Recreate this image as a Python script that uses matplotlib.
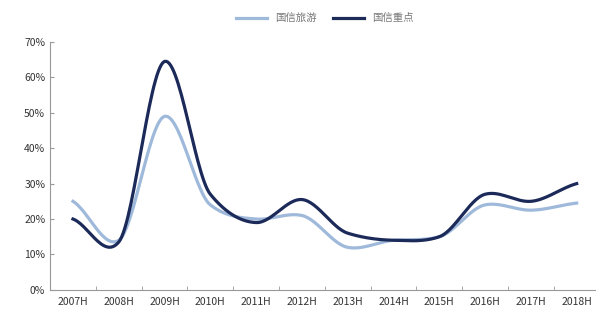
import numpy as np
import matplotlib.pyplot as plt

plt.rcParams['font.family'] = ['Noto Sans CJK SC', 'DejaVu Sans']

# data
periods = ['2007H', '2008H', '2009H', '2010H', '2011H', '2012H',
           '2013H', '2014H', '2015H', '2016H', '2017H', '2018H']
tourism = [25, 14, 49, 24, 20, 21, 12, 14, 15, 24, 22.5, 24.5]
focus = [20, 13.5, 64.5, 27, 19, 25.5, 16, 14, 15, 27, 25, 30]
labels = ['国信旅游', '国信重点']


# smooth curve through the points (cardinal spline), like the excel "smoothed line"
def smooth(y, n=30, k=0.7):
    y = np.asarray(y, dtype=float)
    p = np.concatenate([[2 * y[0] - y[1]], y, [2 * y[-1] - y[-2]]])
    xs, ys = [], []
    t = np.linspace(0, 1, n, endpoint=False)
    h00 = 2 * t ** 3 - 3 * t ** 2 + 1
    h10 = t ** 3 - 2 * t ** 2 + t
    h01 = -2 * t ** 3 + 3 * t ** 2
    h11 = t ** 3 - t ** 2
    for i in range(1, len(p) - 2):
        m1 = k * 0.5 * (p[i + 1] - p[i - 1])
        m2 = k * 0.5 * (p[i + 2] - p[i])
        xs.append(i - 1 + t)
        ys.append(h00 * p[i] + h10 * m1 + h01 * p[i + 1] + h11 * m2)
    xs.append([len(y) - 1])
    ys.append([y[-1]])
    return np.concatenate(xs), np.concatenate(ys)


fig = plt.figure(figsize=(5.96, 3.11), dpi=100)
ax = fig.add_axes([0.084, 0.068, 0.922, 0.797])

x1, y1 = smooth(tourism)
x2, y2 = smooth(focus)
ax.plot(x1, y1, color='#9fb9db', lw=2.3, label=labels[0])
ax.plot(x2, y2, color='#1c2a5a', lw=2.3, label=labels[1])

ax.set_xlim(-0.5, len(periods) - 0.5)
ax.set_ylim(0, 70)
ax.set_yticks(range(0, 71, 10))
ax.set_yticklabels([f'{v}%' for v in range(0, 71, 10)])
ax.set_xticks(range(len(periods)))
ax.set_xticklabels(periods)
ax.set_xticks(np.arange(-0.5, len(periods), 1), minor=True)
ax.tick_params(axis='x', which='major', length=0, labelsize=7.5, colors='#333333', pad=5)
ax.tick_params(axis='x', which='minor', length=3, color='#999999', direction='in')
ax.tick_params(axis='y', length=3, color='#999999', direction='in', labelsize=7.5, colors='#333333')

for s in ['top', 'right']:
    ax.spines[s].set_visible(False)
for s in ['left', 'bottom']:
    ax.spines[s].set_color('#999999')

ax.legend(loc='center', bbox_to_anchor=(0.5, 1.095), ncol=2, frameon=False,
          fontsize=7.5, handlelength=3, columnspacing=1.5, labelcolor='#777777')

fig.savefig('out.png', dpi=100)
